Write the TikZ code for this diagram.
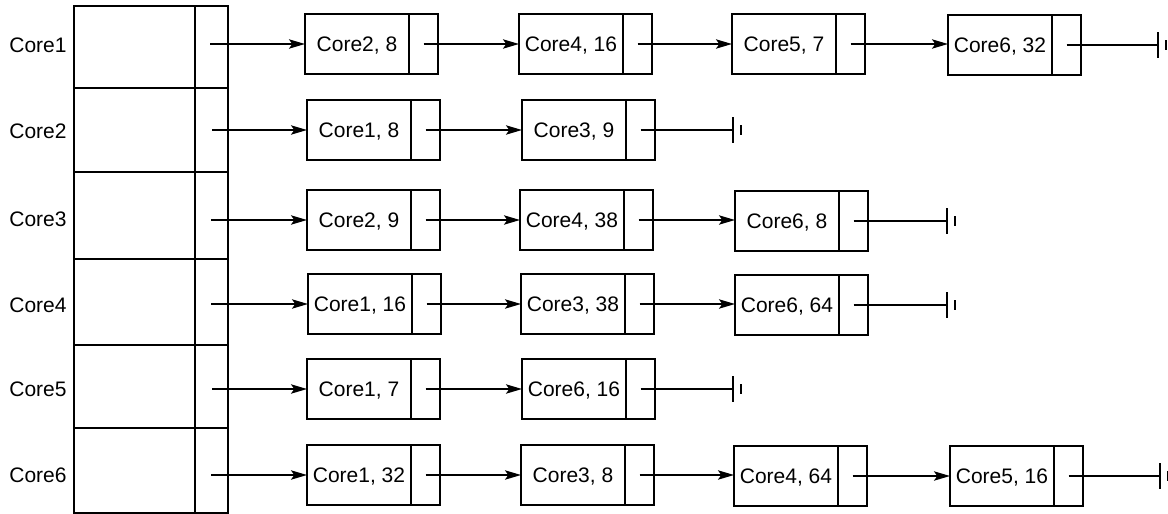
\documentclass[tikz,border=0pt]{standalone}
\usepackage{fontspec}
\setmainfont{Liberation Sans}
\usetikzlibrary{arrows.meta}
\newcommand\listbox[3]{\node[txt] (#1) at (#2) {#3}; \node[ptr] (#1p) at (#1.east) {};}
\newcommand\listend[1]{\draw (#1) ++(0,-13) -- ++(0,26); \draw (#1) ++(8,-5) -- ++(0,10);}
\begin{document}
\begin{tikzpicture}[x=0.75pt,y=-0.75pt, line width=1.3pt,
  every node/.style={font=\fontsize{15.75}{18}\selectfont, inner sep=0pt, outer sep=0pt, text height=11.3pt, text depth=0pt},
  txt/.style={draw, minimum width=78pt, minimum height=45pt},
  ptr/.style={draw, minimum width=21.75pt, minimum height=45pt, anchor=west},
  link/.style={-{Stealth[length=12pt,width=7pt,inset=2.5pt]}},
  tcell/.style={draw, minimum width=90.75pt},
  tptr/.style={draw, minimum width=24.75pt},
  lbl/.style={}]
\useasboundingbox (0,0) rectangle (1168,514);
% table
\node[tcell, minimum height=61.5pt]  (t1) at (134.5,47) {};
\node[tptr,  minimum height=61.5pt]  (t1p) at (211.5,47) {};
\node[tcell, minimum height=63pt]    (t2) at (134.5,130) {};
\node[tptr,  minimum height=63pt]    (t2p) at (211.5,130) {};
\node[tcell, minimum height=65.25pt] (t3) at (134.5,215.5) {};
\node[tptr,  minimum height=65.25pt] (t3p) at (211.5,215.5) {};
\node[tcell, minimum height=64.5pt]  (t4) at (134.5,302) {};
\node[tptr,  minimum height=64.5pt]  (t4p) at (211.5,302) {};
\node[tcell, minimum height=62.25pt] (t5) at (134.5,386.5) {};
\node[tptr,  minimum height=62.25pt] (t5p) at (211.5,386.5) {};
\node[tcell, minimum height=63.75pt] (t6) at (134.5,470.5) {};
\node[tptr,  minimum height=63.75pt] (t6p) at (211.5,470.5) {};
% labels
\node[lbl] (l1) at (38,45) {Core1};
\node[lbl] (l2) at (38,131) {Core2};
\node[lbl] (l3) at (38,219) {Core3};
\node[lbl] (l4) at (38,305) {Core4};
\node[lbl] (l5) at (38,389) {Core5};
\node[lbl] (l6) at (38,475) {Core6};
% start points
\coordinate (s1) at (210,44);
\coordinate (s2) at (212,130);
\coordinate (s3) at (211,220);
\coordinate (s4) at (211,304);
\coordinate (s5) at (212,389);
\coordinate (s6) at (211,475);
% row 1
\listbox{b11}{357,44}{Core2, 8}
\listbox{b12}{571,44}{Core4, 16}
\listbox{b13}{784,44}{Core5, 7}
\listbox{b14}{1000,45}{Core6, 32}
\coordinate (e1) at (1158,45);
% row 2
\listbox{b21}{359,130}{Core1, 8}
\listbox{b22}{574,130}{Core3, 9}
\coordinate (e2) at (733,130);
% row 3
\listbox{b31}{359,220}{Core2, 9}
\listbox{b32}{572,220}{Core4, 38}
\listbox{b33}{787,221}{Core6, 8}
\coordinate (e3) at (947,221);
% row 4
\listbox{b41}{360,304}{Core1, 16}
\listbox{b42}{573,304}{Core3, 38}
\listbox{b43}{787,305}{Core6, 64}
\coordinate (e4) at (947,305);
% row 5
\listbox{b51}{359,389}{Core1, 7}
\listbox{b52}{574,389}{Core6, 16}
\coordinate (e5) at (733,389);
% row 6
\listbox{b61}{359,475}{Core1, 32}
\listbox{b62}{573,475}{Core3, 8}
\listbox{b63}{786,476}{Core4, 64}
\listbox{b64}{1002,476}{Core5, 16}
\coordinate (e6) at (1160,476);
% connectors
\draw[link] (s1) -- (s1 -| b11.west);
\draw[link] (b11p.center) -- (b11p.center -| b12.west);
\draw[link] (b12p.center) -- (b12p.center -| b13.west);
\draw[link] (b13p.center) -- (b13p.center -| b14.west);
\draw (b14p.center) -- (e1); \listend{e1}
\draw[link] (s2) -- (s2 -| b21.west);
\draw[link] (b21p.center) -- (b21p.center -| b22.west);
\draw (b22p.center) -- (e2); \listend{e2}
\draw[link] (s3) -- (s3 -| b31.west);
\draw[link] (b31p.center) -- (b31p.center -| b32.west);
\draw[link] (b32p.center) -- (b32p.center -| b33.west);
\draw (b33p.center) -- (e3); \listend{e3}
\draw[link] (s4) -- (s4 -| b41.west);
\draw[link] (b41p.center) -- (b41p.center -| b42.west);
\draw[link] (b42p.center) -- (b42p.center -| b43.west);
\draw (b43p.center) -- (e4); \listend{e4}
\draw[link] (s5) -- (s5 -| b51.west);
\draw[link] (b51p.center) -- (b51p.center -| b52.west);
\draw (b52p.center) -- (e5); \listend{e5}
\draw[link] (s6) -- (s6 -| b61.west);
\draw[link] (b61p.center) -- (b61p.center -| b62.west);
\draw[link] (b62p.center) -- (b62p.center -| b63.west);
\draw[link] (b63p.center) -- (b63p.center -| b64.west);
\draw (b64p.center) -- (e6); \listend{e6}
\end{tikzpicture}
\end{document}
